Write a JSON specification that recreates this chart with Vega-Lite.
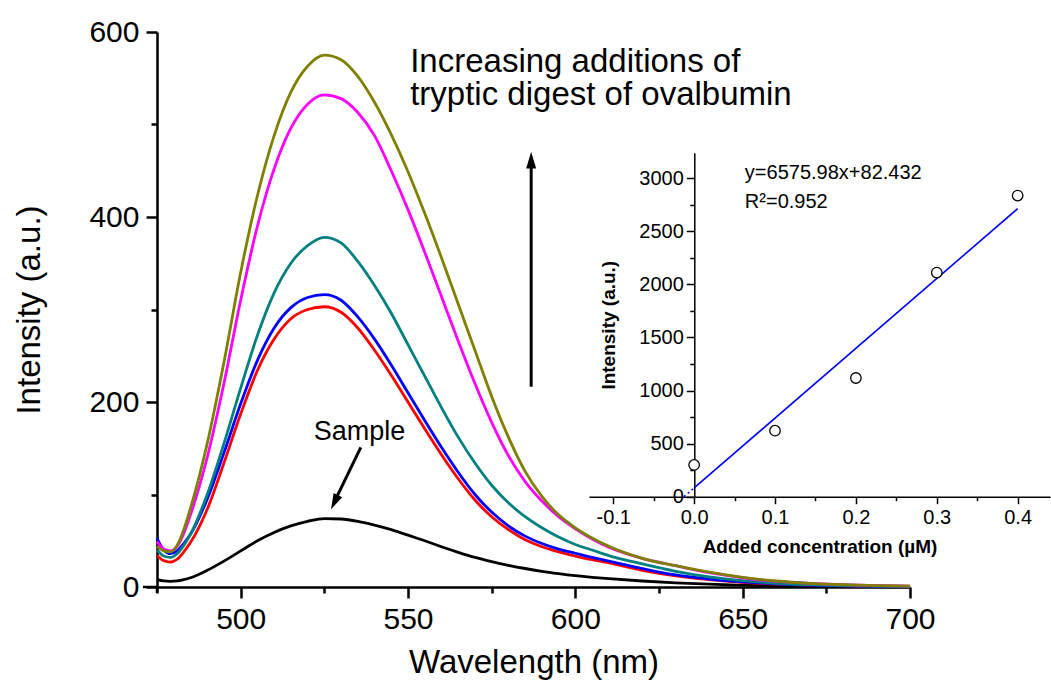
{
  "$schema": "https://vega.github.io/schema/vega-lite/v6.json",
  "autosize": "none",
  "width": 753,
  "height": 555,
  "padding": {"left": 157, "top": 32, "right": 141, "bottom": 110},
  "background": "white",
  "config": {
    "view": {"stroke": null},
    "font": "Liberation Sans",
    "axis": {"grid": false, "domainColor": "black", "tickColor": "black", "labelColor": "black", "titleColor": "black", "labelFont": "Liberation Sans", "titleFont": "Liberation Sans", "labelOverlap": false, "labelFlush": false}
  },
  "datasets": {
    "spectra": [
      {"w":475,"k":8,"r":34,"b":53,"t":40,"m":49,"o":44},
      {"w":477,"k":6.5,"r":28.5,"b":40,"t":33.5,"m":41,"o":39},
      {"w":479,"k":6,"r":27,"b":36,"t":32,"m":39,"o":38},
      {"w":481,"k":6.5,"r":30,"b":39,"t":36,"m":44,"o":45},
      {"w":483,"k":8,"r":38,"b":47,"t":45,"m":58,"o":62},
      {"w":485,"k":10,"r":48,"b":57,"t":57,"m":78,"o":85},
      {"w":490,"k":18,"r":84,"b":95,"t":100,"m":140,"o":155},
      {"w":495,"k":28,"r":134,"b":145,"t":155,"m":220,"o":243},
      {"w":500,"k":39,"r":187,"b":198,"t":215,"m":310,"o":340},
      {"w":505,"k":50,"r":234,"b":245,"t":272,"m":390,"o":423},
      {"w":510,"k":59,"r":268,"b":280,"t":318,"m":452,"o":488},
      {"w":515,"k":66,"r":290,"b":302,"t":350,"m":496,"o":535},
      {"w":520,"k":71,"r":300,"b":313,"t":369,"m":522,"o":563},
      {"w":525,"k":74,"r":303,"b":316,"t":378,"m":532,"o":575},
      {"w":530,"k":73.5,"r":297,"b":310,"t":372,"m":528,"o":570},
      {"w":535,"k":71,"r":280,"b":292,"t":352,"m":513,"o":552},
      {"w":540,"k":67,"r":256,"b":268,"t":326,"m":488,"o":524},
      {"w":545,"k":62,"r":229,"b":240,"t":296,"m":450,"o":489},
      {"w":550,"k":56,"r":200,"b":210,"t":262,"m":408,"o":449},
      {"w":555,"k":50,"r":171,"b":180,"t":228,"m":362,"o":404},
      {"w":560,"k":43.5,"r":143,"b":151,"t":194,"m":314,"o":356},
      {"w":565,"k":37.5,"r":117,"b":124,"t":162,"m":266,"o":306},
      {"w":570,"k":32,"r":94,"b":100,"t":134,"m":220,"o":256},
      {"w":575,"k":27.5,"r":76,"b":81,"t":110,"m":178,"o":206},
      {"w":580,"k":23.5,"r":62,"b":66,"t":91,"m":142,"o":162},
      {"w":585,"k":20,"r":51,"b":55,"t":76,"m":114,"o":125},
      {"w":590,"k":17,"r":43.5,"b":47,"t":64,"m":93,"o":98},
      {"w":595,"k":14.5,"r":38,"b":41,"t":54,"m":76,"o":78},
      {"w":600,"k":12.3,"r":33.5,"b":36.5,"t":46,"m":63,"o":64},
      {"w":605,"k":10.5,"r":29.5,"b":32,"t":40,"m":52,"o":53},
      {"w":610,"k":9,"r":26,"b":28,"t":34,"m":43,"o":44},
      {"w":620,"k":6.5,"r":18,"b":20,"t":25,"m":31,"o":31},
      {"w":630,"k":4.5,"r":12,"b":13,"t":17,"m":23,"o":23},
      {"w":640,"k":3,"r":8,"b":8.5,"t":11,"m":15.5,"o":16},
      {"w":650,"k":2,"r":5,"b":5.5,"t":7,"m":10,"o":10.5},
      {"w":660,"k":1.3,"r":3,"b":3.5,"t":4,"m":6,"o":6.5},
      {"w":670,"k":0.8,"r":2,"b":2,"t":2.5,"m":4,"o":4},
      {"w":680,"k":0.5,"r":1.2,"b":1.2,"t":1.5,"m":2.5,"o":2.5},
      {"w":690,"k":0.3,"r":0.8,"b":0.8,"t":1,"m":1.5,"o":1.5},
      {"w":700,"k":0.2,"r":0.5,"b":0.5,"t":0.5,"m":1,"o":1}
    ],
    "arrows": [
      {"id":"up","w":586.8,"v":216.5,"w2":586.8,"v2":458},
      {"id":"sample","w":535.9,"v":151,"w2":528.0,"v2":92}
    ],
    "axisext": [
      {"w":470.8,"v":0,"w2":475,"v2":0},
      {"w":475,"v":0,"w2":475,"v2":-6.5}
    ],
    "heads": [
      {"id":"up","w":586.8,"v":470.6},
      {"id":"sample","w":527.0,"v":84}
    ],
    "notes": [
      {"id":"inc","w":550.65,"v":557,"t":"Increasing additions of"},
      {"id":"inc","w":550.65,"v":521,"t":"tryptic digest of ovalbumin"},
      {"id":"sample","w":535.5,"v":159,"t":"Sample"}
    ],
    "points": [
      {"c":0.0,"i":299},
      {"c":0.1,"i":622},
      {"c":0.2,"i":1118},
      {"c":0.3,"i":2111},
      {"c":0.4,"i":2836}
    ],
    "fit": [
      {"part":"solid","c":0.0,"i":82.4},
      {"part":"solid","c":0.4,"i":2712.8},
      {"part":"dot","c":-0.0125,"i":0},
      {"part":"dot","c":0.0,"i":82.4}
    ],
    "insetnotes": [
      {"c":0.0627,"i":2991,"t":"y=6575.98x+82.432"},
      {"c":0.0627,"i":2717,"t":"R²=0.952"}
    ]
  },
  "layer": [
    {
      "encoding": {
        "x": {
          "field": "w", "type": "quantitative",
          "scale": {"domain": [475, 700], "nice": false, "zero": false},
          "axis": {
            "orient": "bottom",
            "values": [475,500,525,550,575,600,625,650,675,700],
            "labelExpr": "datum.value % 50 === 0 ? datum.label : ''",
            "tickSize": {"condition": {"test": "datum.value % 50 === 0", "value": 11}, "value": 6},
            "domainWidth": 2.5, "tickWidth": 2.5,
            "labelFontSize": 30, "labelPadding": 6,
            "title": "Wavelength (nm)", "titleFontSize": 33, "titleFontWeight": "normal", "titlePadding": 12
          }
        },
        "y": {
          "field": "v", "type": "quantitative",
          "scale": {"domain": [0, 600], "nice": false, "zero": false},
          "axis": {
            "orient": "left",
            "values": [0,100,200,300,400,500,600],
            "labelExpr": "datum.value % 200 === 0 ? datum.label : ''",
            "tickSize": {"condition": {"test": "datum.value % 200 === 0", "value": 11}, "value": 6},
            "domainWidth": 2.5, "tickWidth": 2.5,
            "labelFontSize": 30, "labelPadding": 7,
            "title": "Intensity (a.u.)", "titleFontSize": 33, "titleFontWeight": "normal", "titlePadding": 42
          }
        }
      },
      "layer": [
        {
          "data": {"name": "spectra"},
          "transform": [{"fold": ["k","r","b","t","m","o"], "as": ["s","v"]}],
          "mark": {"type": "line", "strokeWidth": 2.8, "interpolate": "monotone"},
          "encoding": {
            "color": {
              "field": "s", "type": "nominal", "legend": null,
              "scale": {"domain": ["k","r","b","t","m","o"], "range": ["#000000","#FF0000","#0000FF","#008080","#FF00FF","#808000"]}
            }
          }
        },
        {
          "data": {"name": "axisext"},
          "mark": {"type": "rule", "strokeWidth": 2.5, "color": "black"},
          "encoding": {
            "x2": {"field": "w2"},
            "y2": {"field": "v2"}
          }
        },
        {
          "data": {"name": "arrows"},
          "mark": {"type": "rule", "strokeWidth": 3, "color": "black"},
          "encoding": {
            "x2": {"field": "w2"},
            "y2": {"field": "v2"}
          }
        },
        {
          "data": {"name": "heads"},
          "transform": [{"filter": "datum.id === 'up'"}],
          "mark": {"type": "point", "shape": "M0,0L-0.3,1L0.3,1Z", "size": 1115, "filled": true, "color": "black", "opacity": 1, "angle": 0}
        },
        {
          "data": {"name": "heads"},
          "transform": [{"filter": "datum.id === 'sample'"}],
          "mark": {"type": "point", "shape": "M0,0L-0.3,1L0.3,1Z", "size": 1000, "filled": true, "color": "black", "opacity": 1, "angle": 205.8}
        },
        {
          "data": {"name": "notes"},
          "transform": [{"filter": "datum.id === 'inc'"}],
          "mark": {"type": "text", "align": "left", "baseline": "alphabetic", "fontSize": 33, "font": "Liberation Sans", "color": "black"},
          "encoding": {"text": {"field": "t"}}
        },
        {
          "data": {"name": "notes"},
          "transform": [{"filter": "datum.id === 'sample'"}],
          "mark": {"type": "text", "align": "center", "baseline": "alphabetic", "fontSize": 27, "font": "Liberation Sans", "color": "black"},
          "encoding": {"text": {"field": "t"}}
        }
      ]
    },
    {
      "encoding": {
        "x": {
          "field": "c", "type": "quantitative",
          "scale": {"domain": [-0.13, 0.44], "range": [432, 893], "nice": false, "zero": false},
          "axis": {
            "orient": "bottom", "offset": -90.3,
            "values": [-0.1,-0.05,0,0.05,0.1,0.15,0.2,0.25,0.3,0.35,0.4],
            "format": ".1f",
            "labelExpr": "abs(datum.value*10 - round(datum.value*10)) < 0.001 ? replace(datum.label, '\u2212', '-') : ''",
            "tickSize": {"condition": {"test": "abs(datum.value*10 - round(datum.value*10)) < 0.001", "value": 7}, "value": 4},
            "domainWidth": 1.5, "tickWidth": 1.5,
            "labelFontSize": 20, "labelPadding": 4,
            "title": "Added concentration (µM)", "titleFontSize": 19, "titleFontWeight": "bold", "titlePadding": 10
          }
        },
        "y": {
          "field": "i", "type": "quantitative",
          "scale": {"domain": [0, 3240], "range": [464.7, 120.7], "nice": false, "zero": false},
          "axis": {
            "orient": "left", "offset": -537.3,
            "values": [0,250,500,750,1000,1250,1500,1750,2000,2250,2500,2750,3000],
            "labelExpr": "datum.value % 500 === 0 ? datum.label : ''",
            "format": "d",
            "tickSize": {"condition": {"test": "datum.value % 500 === 0", "value": 8}, "value": 4.5},
            "domainWidth": 1.5, "tickWidth": 1.5,
            "labelFontSize": 20, "labelPadding": 3,
            "title": "Intensity (a.u.)", "titleFontSize": 19, "titleFontWeight": "bold", "titlePadding": 20
          }
        }
      },
      "layer": [
        {
          "data": {"name": "fit"},
          "transform": [{"filter": "datum.part === 'solid'"}],
          "mark": {"type": "line", "color": "#0000FF", "strokeWidth": 1.6},
          "encoding": {}
        },
        {
          "data": {"name": "fit"},
          "transform": [{"filter": "datum.part === 'dot'"}],
          "mark": {"type": "line", "color": "#0000FF", "strokeWidth": 1.6, "strokeDash": [2, 3]},
          "encoding": {}
        },
        {
          "data": {"name": "points"},
          "mark": {"type": "point", "shape": "circle", "size": 110, "filled": true, "fill": "white", "stroke": "black", "strokeWidth": 1.3, "opacity": 1}
        },
        {
          "data": {"name": "insetnotes"},
          "mark": {"type": "text", "align": "left", "baseline": "alphabetic", "fontSize": 20, "font": "Liberation Sans", "color": "black"},
          "encoding": {"text": {"field": "t"}}
        }
      ]
    }
  ],
  "resolve": {"scale": {"x": "independent", "y": "independent"}, "axis": {"x": "independent", "y": "independent"}}
}
